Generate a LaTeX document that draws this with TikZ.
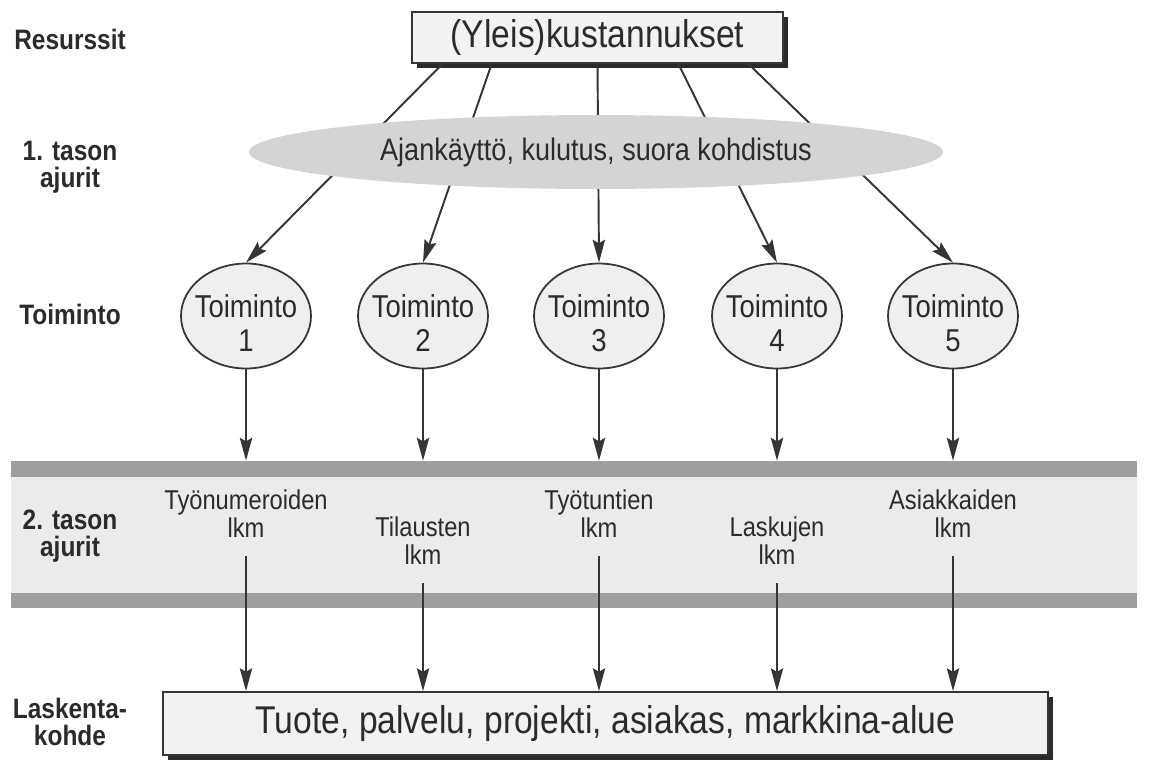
\documentclass[tikz,border=0pt]{standalone}
\usepackage{fontspec}
\setmainfont{Liberation Sans}[FakeStretch=0.87]
\usetikzlibrary{arrows.meta,calc,shapes.geometric,shadows}
\definecolor{ink}{HTML}{2B2B2B}
\definecolor{linec}{HTML}{353535}
\definecolor{boxfill}{HTML}{F2F2F2}
\definecolor{ellfill}{HTML}{D4D4D4}
\definecolor{toimfill}{HTML}{EFEFEF}
\definecolor{stripec}{HTML}{9E9E9E}
\definecolor{bandfill}{HTML}{EBEBEB}
\begin{document}
\begin{tikzpicture}[x=0.02cm,y=-0.02cm,
  arr/.style={draw=linec, line width=1.1pt, -{Stealth[length=13pt,width=7pt,inset=2pt]}},
  sidelab/.style={font=\bfseries\fontsize{16}{15.4}\selectfont, text=ink, align=center, inner sep=0pt},
  shbox/.style={draw=linec, line width=1pt, fill=boxfill, inner sep=0pt,
     general shadow={fill=ink, shadow xshift=0.1cm, shadow yshift=-0.1cm}},
  toim/.style={ellipse, draw=linec, line width=1pt, fill=toimfill, minimum width=2.6cm, minimum height=2.1cm, inner sep=0pt},
  toimtxt/.style={font=\fontsize{18}{19.3}\selectfont, text=ink, align=center, inner sep=0pt},
  drvtxt/.style={font=\fontsize{15.5}{16}\selectfont, text=ink, align=center, inner sep=0pt},
  down/.style={arr, shorten <=0.36cm}
]
\useasboundingbox (0,0) rectangle (1152,762);

% band (2nd level drivers)
\node[fill=stripec, minimum width=22.52cm, minimum height=2.94cm, inner sep=0pt,
  path picture={\fill[bandfill] ([yshift=-0.32cm]path picture bounding box.north west) rectangle ([yshift=0.30cm]path picture bounding box.south east);}]
  (band) at (574,534.5) {};

% side labels
\node[sidelab] (sres) at (70,39) {Resurssit};
\node[sidelab] (sdr1) at (70,167) {1. tason\\ajurit};
\node[sidelab] (stoi) at (70,314) {Toiminto};
\node[sidelab] (sdr2) at (70,536) {2. tason\\ajurit};
\node[sidelab] (slas) at (70,722) {Laskenta-\\kohde};

% top box
\node[shbox, minimum width=7.42cm, minimum height=1.02cm, font=\fontsize{22}{24}\selectfont, text=ink]
  (top) at (597.5,37.5) {(Yleis)kustannukset};

% activities
\node[toim] (t1) at (246,316) {};
\node[toim] (t2) at (423,316) {};
\node[toim] (t3) at (599,316) {};
\node[toim] (t4) at (777,316) {};
\node[toim] (t5) at (953,316) {};
\node[toimtxt] (tt1) at (246,323) {Toiminto\\1};
\node[toimtxt] (tt2) at (423,323) {Toiminto\\2};
\node[toimtxt] (tt3) at (599,323) {Toiminto\\3};
\node[toimtxt] (tt4) at (777,323) {Toiminto\\4};
\node[toimtxt] (tt5) at (953,323) {Toiminto\\5};

% connectors from resources to activities (behind the driver ellipse)
\draw[arr] ($(top.south west)!0.084!(top.south east)$) -- (t1.north);
\draw[arr] ($(top.south west)!0.216!(top.south east)$) -- (t2.north);
\draw[arr] ($(top.south west)!0.5!(top.south east)$) -- (t3.north);
\draw[arr] ($(top.south west)!0.717!(top.south east)$) -- (t4.north);
\draw[arr] ($(top.south west)!0.905!(top.south east)$) -- (t5.north);

% first level drivers ellipse
\node[ellipse, fill=ellfill, minimum width=13.88cm, minimum height=1.48cm, inner sep=0pt,
  font=\fontsize{17.7}{19}\selectfont, text=ink] (drv) at (596,152) {Ajankäyttö, kulutus, suora kohdistus};

% activities to band
\draw[arr] (t1.south) -- (t1.south |- band.north);
\draw[arr] (t2.south) -- (t2.south |- band.north);
\draw[arr] (t3.south) -- (t3.south |- band.north);
\draw[arr] (t4.south) -- (t4.south |- band.north);
\draw[arr] (t5.south) -- (t5.south |- band.north);

% second level driver labels
\node[drvtxt] (l1) at (246,514) {Työnumeroiden\\lkm};
\node[drvtxt] (l2) at (423,541) {Tilausten\\lkm};
\node[drvtxt] (l3) at (599,514) {Työtuntien\\lkm};
\node[drvtxt] (l4) at (777,541) {Laskujen\\lkm};
\node[drvtxt] (l5) at (953,514) {Asiakkaiden\\lkm};

% bottom box
\node[shbox, minimum width=17.7cm, minimum height=1.26cm, font=\fontsize{22}{24}\selectfont, text=ink]
  (bot) at (605.5,723.5) {Tuote, palvelu, projekti, asiakas, markkina-alue};

% drivers to cost objects
\draw[down] (l1.south) -- (l1.south |- bot.north);
\draw[down] (l2.south) -- (l2.south |- bot.north);
\draw[down] (l3.south) -- (l3.south |- bot.north);
\draw[down] (l4.south) -- (l4.south |- bot.north);
\draw[down] (l5.south) -- (l5.south |- bot.north);
\end{tikzpicture}
\end{document}
